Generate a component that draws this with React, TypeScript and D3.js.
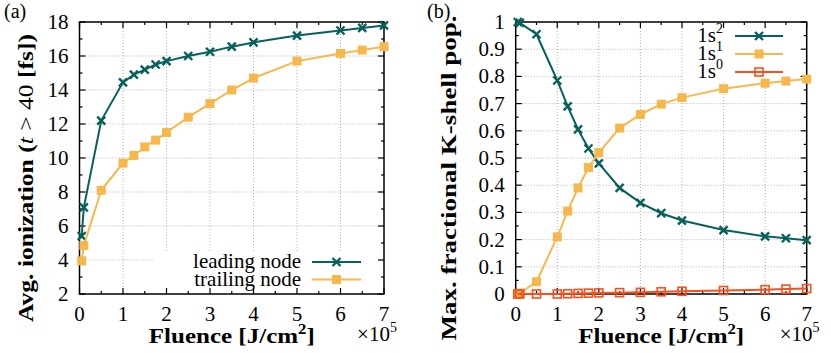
import React, { useEffect, useRef } from 'react';
import * as d3 from 'd3';

// fluence in units of 1e5 J/cm^2
const fluence = [0.05, 0.1, 0.5, 1, 1.25, 1.5, 1.75, 2, 2.5, 3, 3.5, 4, 5, 6, 6.5, 7];

const leadingNode = [5.4, 7.1, 12.2, 14.45, 14.9, 15.2, 15.5, 15.7, 16.0, 16.25, 16.55, 16.8, 17.2, 17.5, 17.65, 17.8];
const trailingNode = [3.95, 4.85, 8.1, 9.7, 10.15, 10.65, 11.05, 11.5, 12.4, 13.2, 14.0, 14.7, 15.7, 16.15, 16.35, 16.55];

const pop1s2 = [1.0, 0.997, 0.955, 0.785, 0.69, 0.605, 0.535, 0.48, 0.39, 0.335, 0.297, 0.27, 0.235, 0.212, 0.205, 0.198];
const pop1s1 = [0.0, 0.003, 0.045, 0.21, 0.305, 0.39, 0.465, 0.52, 0.61, 0.66, 0.698, 0.722, 0.755, 0.775, 0.783, 0.79];
const pop1s0 = [0.0, 0.0, 0.0, 0.0, 0.001, 0.002, 0.003, 0.004, 0.005, 0.006, 0.008, 0.01, 0.013, 0.016, 0.018, 0.02];

const xTicks = [0, 1, 2, 3, 4, 5, 6, 7];
const yTicksA = [2, 4, 6, 8, 10, 12, 14, 16, 18];
const yTicksB = [0, 0.1, 0.2, 0.3, 0.4, 0.5, 0.6, 0.7, 0.8, 0.9, 1];

const TEAL = '#07615b';
const YELLOW = '#f6b84c';
const RED = '#f7501c';
const FONT = 'Liberation Serif, DejaVu Serif, serif';

const App = () => {
  const ref = useRef(null);

  useEffect(() => {
    const svg = d3.select(ref.current);
    svg.selectAll('*').remove();

    const txt = (sel) => sel.attr('font-family', FONT);

    const drawPanel = (opts) => {
      const { x0, x1, yDomain, yTicks, yMinor, yFmt, series, legend, legendBox, ylabel, ylabelX, ylabelLen, tag, tagX } = opts;
      const top = 22, bottom = 294;
      const x = d3.scaleLinear().domain([0, 7]).range([x0, x1]);
      const y = d3.scaleLinear().domain(yDomain).range([bottom, top]);
      const g = svg.append('g');

      // grid
      g.selectAll('.gx').data(xTicks.slice(1, -1)).enter().append('line')
        .attr('x1', d => x(d)).attr('x2', d => x(d)).attr('y1', top).attr('y2', bottom)
        .style('stroke', '#9a9a9a').style('stroke-width', 0.8).style('stroke-dasharray', '1,2');
      g.selectAll('.gy').data(yTicks.slice(1, -1)).enter().append('line')
        .attr('x1', x0).attr('x2', x1).attr('y1', d => y(d)).attr('y2', d => y(d))
        .style('stroke', '#9a9a9a').style('stroke-width', 0.8).style('stroke-dasharray', '1,2');

      // legend background (opaque key)
      g.append('rect')
        .attr('x', legendBox[0]).attr('y', legendBox[1])
        .attr('width', legendBox[2] - legendBox[0]).attr('height', legendBox[3] - legendBox[1])
        .style('fill', '#fff');

      // ticks, mirrored on all sides
      const xMinor = d3.range(0.5, 7, 1);
      const ticks = g.append('g').style('stroke', '#000').style('stroke-width', 1.2);
      [[xTicks, 6], [xMinor, 3]].forEach(([arr, len]) => {
        arr.forEach(d => {
          ticks.append('line').attr('x1', x(d)).attr('x2', x(d)).attr('y1', bottom).attr('y2', bottom - len);
          ticks.append('line').attr('x1', x(d)).attr('x2', x(d)).attr('y1', top).attr('y2', top + len);
        });
      });
      [[yTicks, 6], [yMinor, 3]].forEach(([arr, len]) => {
        arr.forEach(d => {
          ticks.append('line').attr('y1', y(d)).attr('y2', y(d)).attr('x1', x0).attr('x2', x0 + len);
          ticks.append('line').attr('y1', y(d)).attr('y2', y(d)).attr('x1', x1).attr('x2', x1 - len);
        });
      });

      // frame
      g.append('rect').attr('x', x0).attr('y', top).attr('width', x1 - x0).attr('height', bottom - top)
        .style('fill', 'none').style('stroke', '#000').style('stroke-width', 1.5);

      // tick labels
      g.selectAll('.xl').data(xTicks).enter().append('text')
        .attr('x', d => x(d)).attr('y', 321).attr('text-anchor', 'middle')
        .call(txt).attr('font-size', 21).text(d => d);
      g.selectAll('.yl').data(yTicks).enter().append('text')
        .attr('x', x0 - 11).attr('y', d => y(d) + 7).attr('text-anchor', 'end')
        .call(txt).attr('font-size', 21).text(yFmt);

      // series
      const line = d3.line().x(d => x(d[0])).y(d => y(d[1]));
      const marker = (sel, type, color, cx, cy) => {
        if (type === 'cross') {
          const s = 4;
          sel.append('path')
            .attr('d', `M${cx - s},${cy - s}L${cx + s},${cy + s}M${cx - s},${cy + s}L${cx + s},${cy - s}`)
            .style('stroke', color).style('stroke-width', 2.4).style('fill', 'none');
        } else if (type === 'fsquare') {
          sel.append('rect').attr('x', cx - 4.5).attr('y', cy - 4.5).attr('width', 9).attr('height', 9)
            .style('fill', color);
        } else {
          sel.append('rect').attr('x', cx - 4).attr('y', cy - 4).attr('width', 8).attr('height', 8)
            .style('fill', 'none').style('stroke', color).style('stroke-width', 1.6);
        }
      };
      series.forEach(s => {
        const pts = fluence.map((f, i) => [f, s.values[i]]);
        g.append('path').datum(pts).attr('d', line)
          .style('fill', 'none').style('stroke', s.color).style('stroke-width', 2);
        pts.forEach(p => marker(g, s.marker, s.color, x(p[0]), y(p[1])));
      });

      // legend
      legend.rows.forEach((s, i) => {
        const cy = legend.y0 + i * legend.dy;
        const t = g.append('text').attr('x', legend.textX).attr('y', cy + 6).attr('text-anchor', 'end')
          .call(txt).attr('font-size', 21);
        if (s.sup !== undefined) {
          t.append('tspan').text(s.label);
          t.append('tspan').attr('dy', -9).attr('font-size', 14).text(s.sup);
        } else {
          t.text(s.label);
        }
        g.append('line').attr('x1', legend.lx0).attr('x2', legend.lx1).attr('y1', cy).attr('y2', cy)
          .style('stroke', s.color).style('stroke-width', 2);
        marker(g, s.marker, s.color, (legend.lx0 + legend.lx1) / 2, cy);
      });

      // x label
      const xl = g.append('text').attr('x', (x0 + x1) / 2).attr('y', 343)
        .attr('text-anchor', 'middle').attr('textLength', 166).attr('lengthAdjust', 'spacingAndGlyphs')
        .call(txt).attr('font-size', 21).attr('font-weight', 'bold');
      xl.append('tspan').text('Fluence [J/cm');
      xl.append('tspan').attr('dy', -9).attr('font-size', 14).text('2');
      xl.append('tspan').attr('dy', 9).text(']');

      const ex = g.append('text').attr('x', x1 - 7).attr('y', 341).attr('text-anchor', 'middle')
        .call(txt).attr('font-size', 21);
      ex.append('tspan').text('×10');
      ex.append('tspan').attr('dy', -9).attr('font-size', 14).text('5');

      // y label
      const yl = g.append('text')
        .attr('transform', `translate(${ylabelX},${(top + bottom) / 2 + 20}) rotate(-90)`)
        .attr('text-anchor', 'middle')
        .attr('textLength', ylabelLen).attr('lengthAdjust', 'spacingAndGlyphs')
        .call(txt).attr('font-size', 21).attr('font-weight', 'bold');
      ylabel(yl);

      g.append('text').attr('x', tagX).attr('y', 18).call(txt).attr('font-size', 20).text(tag);
    };

    drawPanel({
      x0: 79.5, x1: 384, yDomain: [2, 18], yTicks: yTicksA, yMinor: d3.range(3, 18, 2),
      yFmt: d => d,
      series: [
        { values: leadingNode, color: TEAL, marker: 'cross' },
        { values: trailingNode, color: YELLOW, marker: 'fsquare' },
      ],
      legend: {
        textX: 301, lx0: 312, lx1: 361, y0: 262, dy: 17.5,
        rows: [
          { label: 'leading node', color: TEAL, marker: 'cross' },
          { label: 'trailing node', color: YELLOW, marker: 'fsquare' },
        ],
      },
      legendBox: [153, 252, 383, 293],
      ylabel: (t) => {
        t.append('tspan').text('Avg.  ionization (');
        t.append('tspan').attr('font-style', 'italic').attr('font-weight', 'normal').text('t');
        t.append('tspan').attr('font-weight', 'normal').text(' > 40 ');
        t.append('tspan').text('[fs])');
      },
      ylabelX: 33, ylabelLen: 288, tag: '(a)', tagX: 4,
    });

    drawPanel({
      x0: 515.7, x1: 806.7, yDomain: [0, 1], yTicks: yTicksB, yMinor: d3.range(0.05, 1, 0.1),
      yFmt: d => (d === 0 || d === 1 ? String(d) : d.toFixed(1)),
      series: [
        { values: pop1s2, color: TEAL, marker: 'cross' },
        { values: pop1s1, color: YELLOW, marker: 'fsquare' },
        { values: pop1s0, color: RED, marker: 'osquare' },
      ],
      legend: {
        textX: 723, lx0: 735, lx1: 783, y0: 36, dy: 18,
        rows: [
          { label: '1s', sup: '2', color: TEAL, marker: 'cross' },
          { label: '1s', sup: '1', color: YELLOW, marker: 'fsquare' },
          { label: '1s', sup: '0', color: RED, marker: 'osquare' },
        ],
      },
      legendBox: [683, 23, 806, 80],
      ylabel: (t) => { t.text('Max.  fractional K-shell pop.'); },
      ylabelX: 456, ylabelLen: 325, tag: '(b)', tagX: 427,
    });
  }, []);

  return (
    <svg ref={ref} width={831} height={353} style={{ position: 'absolute', left: 0, top: 0, background: '#fff' }} />
  );
};

export default App;
